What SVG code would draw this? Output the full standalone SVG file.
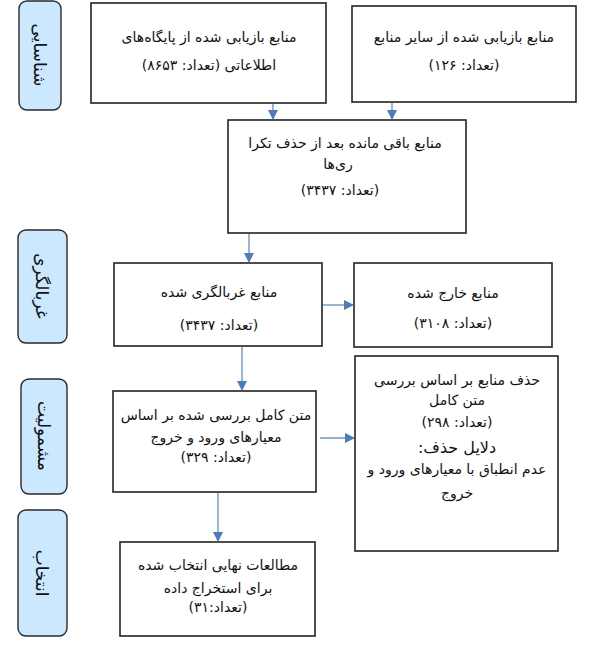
<svg xmlns="http://www.w3.org/2000/svg" width="589" height="645" viewBox="0 0 589 645">
<style>
.box{fill:#fff;stroke:#222;stroke-width:1.6}
.lab{fill:#cce8fe;stroke:#2a2a2a;stroke-width:1.4}
.t{font-family:"DejaVu Sans","Noto Sans",sans-serif;font-size:14px;fill:#111;text-anchor:middle;direction:rtl}
.lt{font-family:"DejaVu Sans","Noto Sans",sans-serif;font-size:17px;fill:#111;text-anchor:middle;direction:rtl}
.c{stroke:#6d95cc;stroke-width:1.4;fill:none;marker-end:url(#ah)}
</style>
<defs>
<marker id="ah" markerWidth="10" markerHeight="10" refX="9" refY="5" orient="auto" markerUnits="userSpaceOnUse">
<path d="M0,0 L10,5 L0,10 Z" fill="#4a7ebb"/>
</marker>
</defs>
<rect width="589" height="645" fill="#fff"/>
<g id="label-identification">
<rect class="lab" x="19" y="1" width="42" height="109" rx="8"/>
<text class="lt" transform="translate(40,55) rotate(90)" y="6">شناسایی</text>
</g>
<g id="label-screening">
<rect class="lab" x="18" y="230" width="49" height="113" rx="8"/>
<text class="lt" transform="translate(42,286) rotate(90)" y="6">غربالگری</text>
</g>
<g id="label-eligibility">
<rect class="lab" x="21" y="379" width="46" height="115" rx="8"/>
<text class="lt" transform="translate(44,436) rotate(90)" y="6">مشمولیت</text>
</g>
<g id="label-included">
<rect class="lab" x="18" y="510" width="49" height="126" rx="8"/>
<text class="lt" transform="translate(42,573) rotate(90)" y="6">انتخاب</text>
</g>
<g id="box-databases">
<rect class="box" x="91" y="3" width="235" height="100"/>
<text class="t" x="209" y="42">منابع بازیابی شده از پایگاه‌های</text>
<text class="t" x="209" y="70">اطلاعاتی (تعداد: ۸۶۵۳)</text>
</g>
<g id="box-other">
<rect class="box" x="352" y="6" width="224" height="96"/>
<text class="t" x="464" y="42">منابع بازیابی شده از سایر منابع</text>
<text class="t" x="464" y="70">(تعداد: ۱۲۶)</text>
</g>
<g id="box-dedup">
<rect class="box" x="228" y="120" width="238" height="113"/>
<text class="t" x="345" y="148">منابع باقی مانده بعد از حذف تکرا</text>
<text class="t" x="338" y="169">ری‌ها</text>
<text class="t" x="340" y="195">(تعداد: ۳۴۳۷)</text>
</g>
<g id="box-screened">
<rect class="box" x="114" y="263" width="208" height="83"/>
<text class="t" x="219" y="297">منابع غربالگری شده</text>
<text class="t" x="219" y="330">(تعداد: ۳۴۳۷)</text>
</g>
<g id="box-excluded">
<rect class="box" x="354" y="263" width="198" height="84"/>
<text class="t" x="453" y="298">منابع خارج شده</text>
<text class="t" x="453" y="328">(تعداد: ۳۱۰۸)</text>
</g>
<g id="box-fulltext">
<rect class="box" x="113" y="391" width="203" height="101"/>
<text class="t" x="216" y="420">متن کامل بررسی شده بر اساس</text>
<text class="t" x="216" y="442">معیارهای ورود و خروج</text>
<text class="t" x="216" y="462">(تعداد: ۳۲۹)</text>
</g>
<g id="box-fulltext-excluded">
<rect class="box" x="355" y="356" width="203" height="195"/>
<text class="t" x="457" y="385">حذف منابع بر اساس بررسی</text>
<text class="t" x="457" y="405">متن کامل</text>
<text class="t" x="457" y="427">(تعداد: ۲۹۸)</text>
<text class="t" x="457" y="453" style="font-size:16px">دلایل حذف:</text>
<text class="t" x="457" y="474">عدم انطباق با معیارهای ورود و</text>
<text class="t" x="457" y="498">خروج</text>
</g>
<g id="box-included">
<rect class="box" x="120" y="542" width="195" height="94"/>
<text class="t" x="218" y="570">مطالعات نهایی انتخاب شده</text>
<text class="t" x="218" y="593">برای استخراج داده</text>
<text class="t" x="218" y="612">(تعداد:۳۱)</text>
</g>
<g id="connectors">
<line class="c" x1="273" y1="104" x2="273" y2="119"/>
<line class="c" x1="392" y1="103" x2="392" y2="119"/>
<line class="c" x1="249" y1="234" x2="249" y2="262"/>
<line class="c" x1="323" y1="305" x2="353" y2="305"/>
<line class="c" x1="242" y1="347" x2="242" y2="390"/>
<line class="c" x1="320" y1="438" x2="354" y2="438"/>
<line class="c" x1="218" y1="493" x2="218" y2="541"/>
</g>
</svg>
